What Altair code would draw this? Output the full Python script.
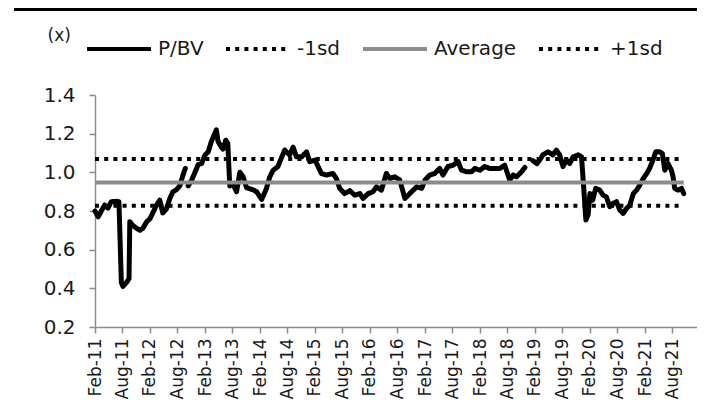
import altair as alt
import pandas as pd

# ---- data ----
pbv_dates = [
    "2011-02-01", "2011-02-22", "2011-03-15", "2011-04-06", "2011-04-28", "2011-05-20",
    "2011-06-23", "2011-07-10", "2011-07-26", "2011-08-06", "2011-08-29", "2011-09-15",
    "2011-09-20", "2011-10-10", "2011-11-06", "2011-11-26", "2011-12-15", "2012-01-11",
    "2012-02-01", "2012-02-20", "2012-03-15", "2012-04-06", "2012-04-26", "2012-05-20",
    "2012-06-12", "2012-07-03", "2012-07-26", "2012-08-17", "2012-09-09", "2012-09-23",
    "2012-10-01", "2012-10-12", "2012-11-04", "2012-11-26", "2012-12-17", "2013-01-09",
    "2013-02-01", "2013-02-22", "2013-03-15", "2013-04-06", "2013-04-17", "2013-04-28",
    "2013-05-20", "2013-05-31", "2013-06-18", "2013-07-02", "2013-07-15", "2013-08-04",
    "2013-08-29", "2013-09-20", "2013-10-10", "2013-11-04", "2013-11-26", "2013-12-15",
    "2014-01-09", "2014-02-12", "2014-03-15", "2014-04-06", "2014-04-28", "2014-05-31",
    "2014-06-23", "2014-07-15", "2014-08-17", "2014-09-09", "2014-10-01", "2014-11-04",
    "2014-12-07", "2014-12-28", "2015-02-01", "2015-02-22", "2015-03-15", "2015-04-17",
    "2015-05-31", "2015-06-23", "2015-07-15", "2015-08-17", "2015-09-20", "2015-10-23",
    "2015-11-26", "2015-12-17", "2016-01-20", "2016-02-22", "2016-03-15", "2016-04-17",
    "2016-05-20", "2016-06-12", "2016-07-15", "2016-08-17", "2016-09-20", "2016-10-12",
    "2016-11-04", "2016-12-07", "2017-01-09", "2017-02-01", "2017-03-04", "2017-04-06",
    "2017-05-09", "2017-05-31", "2017-07-03", "2017-08-06", "2017-09-09", "2017-10-01",
    "2017-11-04", "2017-12-07", "2017-12-28", "2018-02-01", "2018-03-04", "2018-04-06",
    "2018-05-09", "2018-06-12", "2018-07-15", "2018-08-17", "2018-09-09", "2018-10-01",
    "2018-11-04", "2018-11-26", "2018-12-20", "2019-01-18", "2019-02-14", "2019-03-10",
    "2019-03-25", "2019-04-28", "2019-05-31", "2019-06-23", "2019-07-15", "2019-08-06",
    "2019-08-29", "2019-09-20", "2019-10-12", "2019-11-15", "2019-12-07", "2019-12-22",
    "2020-01-05", "2020-01-20", "2020-02-01", "2020-02-19", "2020-03-10", "2020-04-06",
    "2020-04-28", "2020-05-20", "2020-06-12", "2020-07-03", "2020-07-26", "2020-08-17",
    "2020-09-09", "2020-10-01", "2020-10-23", "2020-11-15", "2020-12-07", "2020-12-28",
    "2021-01-20", "2021-02-12", "2021-03-03", "2021-03-25", "2021-04-13", "2021-05-09",
    "2021-05-27", "2021-06-12", "2021-07-03", "2021-07-26", "2021-08-06", "2021-08-17",
    "2021-09-09", "2021-10-01", "2021-10-16",
]
pbv_values = [
    0.80, 0.77, 0.80, 0.83, 0.815, 0.848,
    0.85, 0.848, 0.43, 0.41, 0.43, 0.45,
    0.745, 0.725, 0.71, 0.70, 0.71, 0.745,
    0.76, 0.79, 0.83, 0.856, 0.79, 0.81,
    0.865, 0.90, 0.91, 0.93, 0.99, 1.02,
    None, 0.93, 0.96, 1.00, 1.04, 1.046,
    1.09, 1.106, 1.16, 1.20, 1.22, 1.16,
    1.13, 1.12, 1.166, 1.15, 0.93, 0.94,
    0.90, 1.00, 0.98, 0.92, 0.915, 0.91,
    0.90, 0.86, 0.915, 0.975, 1.01, 1.03,
    1.075, 1.115, 1.09, 1.13, 1.08, 1.08,
    1.106, 1.055, 1.063, 1.03, 0.994, 0.986,
    0.994, 0.968, 0.917, 0.89, 0.905, 0.882,
    0.89, 0.865, 0.89, 0.90, 0.925, 0.908,
    0.994, 0.968, 0.977, 0.96, 0.865, 0.882,
    0.90, 0.925, 0.917, 0.96, 0.986, 0.994,
    1.02, 0.986, 1.03, 1.037, 1.055, 1.011,
    1.003, 1.003, 1.02, 1.011, 1.03, 1.02,
    1.02, 1.02, 1.037, 0.96, 0.986, 0.977,
    1.003, 1.025, None, 1.06, 1.045, 1.07,
    1.09, 1.106, 1.09, 1.115, 1.09, 1.03,
    1.063, 1.046, 1.08, 1.09, 1.08, 0.917,
    0.753, 0.78, 0.89, 0.856, 0.917, 0.908,
    0.882, 0.873, 0.822, 0.839, 0.848, 0.805,
    0.788, 0.813, 0.831, 0.89, 0.908, 0.934,
    0.968, 0.994, 1.02, 1.063, 1.106, 1.106,
    1.097, 1.011, 1.046, 1.011, 0.977, 0.917,
    0.908, 0.917, 0.89,
]

ref_names = ["-1sd", "Average", "+1sd"]
ref_values = [0.827, 0.948, 1.069]
ref_start = "2011-02-01"
ref_end = "2021-10-16"

series_order = ["P/BV", "-1sd", "Average", "+1sd"]
series_colors = ["#000000", "#000000", "#8c8c8c", "#000000"]
series_dash = [[1, 0], [4, 5.2], [1, 0], [4, 5.2]]

y_ticks = [0.2, 0.4, 0.6, 0.8, 1.0, 1.2, 1.4]
x_tick_months = [(y, m) for y in range(2011, 2022) for m in (2, 8)]
x_domain = [(2011, 2, 1), (2022, 1, 12)]

# ---- tables ----
pbv_df = pd.DataFrame({"date": pbv_dates, "value": pbv_values, "series": "P/BV"})
ref_rows = []
for name, val in zip(ref_names, ref_values):
    ref_rows.append({"date": ref_start, "value": val, "series": name})
    ref_rows.append({"date": ref_end, "value": val, "series": name})
ref_df = pd.DataFrame(ref_rows)

FONT = "DejaVu Sans"

x_enc = alt.X(
    "date:T",
    scale=alt.Scale(
        type="utc",
        domain=[alt.DateTime(year=a, month=b, date=c, utc=True) for a, b, c in x_domain],
    ),
    axis=alt.Axis(
        title=None,
        values=[alt.DateTime(year=a, month=b, date=1, utc=True) for a, b in x_tick_months],
        labelExpr="utcFormat(datum.value, '%b-%y')",
        labelAngle=-90,
        labelFontSize=17,
        labelPadding=5,
        tickSize=6,
        labelOverlap=False,
    ),
)
y_enc = alt.Y(
    "value:Q",
    scale=alt.Scale(domain=[0.2, 1.4], nice=False, zero=False),
    axis=alt.Axis(
        values=y_ticks,
        format=".1f",
        title="(x)",
        titleAngle=0,
        titleAlign="left",
        titleBaseline="top",
        titleX=-48,
        titleY=-68,
        titleFontSize=17,
        titleFontWeight="normal",
        labelFontSize=20,
        labelPadding=14,
        tickSize=6,
    ),
)
color_enc = alt.Color(
    "series:N",
    scale=alt.Scale(domain=series_order, range=series_colors),
    legend=alt.Legend(
        title=None,
        orient="none",
        direction="horizontal",
        legendX=-10,
        legendY=-80,
        symbolType="stroke",
        symbolSize=4096,
        symbolStrokeWidth=4,
        labelFontSize=20,
        labelOffset=5,
        columnPadding=14,
        labelColor="#1a1a1a",
    ),
)
dash_enc = alt.StrokeDash("series:N", scale=alt.Scale(domain=series_order, range=series_dash), legend=None)

pbv_line = alt.Chart(pbv_df).mark_line(strokeWidth=5, strokeJoin="round", strokeCap="round").encode(
    x=x_enc, y=y_enc, color=color_enc, strokeDash=dash_enc
)
ref_lines = alt.Chart(ref_df).mark_line(strokeWidth=4).encode(
    x=x_enc, y=y_enc, color=color_enc, strokeDash=dash_enc, detail="series:N"
)
top_bar = alt.Chart(pd.DataFrame({"k": [0]})).mark_rule(color="black", strokeWidth=4).encode(
    x=alt.value(-81), x2=alt.value(620), y=alt.value(-86)
)

chart = (
    alt.layer(pbv_line, ref_lines, top_bar)
    .properties(
        width=602,
        height=232,
        autosize="none",
        padding={"left": 87, "top": 87, "right": 0, "bottom": 75},
    )
    .configure_view(stroke=None)
    .configure_axis(
        grid=False,
        domainColor="#8c8c8c",
        domainWidth=1.5,
        tickColor="#8c8c8c",
        tickWidth=1.5,
        labelFont=FONT,
        titleFont=FONT,
        labelColor="#1a1a1a",
        titleColor="#1a1a1a",
    )
    .configure_legend(labelFont=FONT, padding=0)
)

chart.save("out.html", embed_options={"renderer": "svg", "actions": False})
